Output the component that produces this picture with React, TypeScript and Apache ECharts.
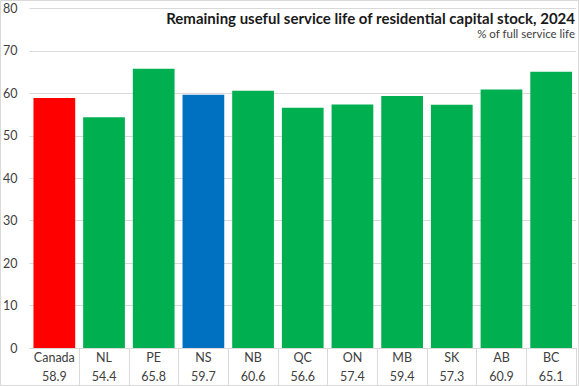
import React, { useEffect, useRef } from "react";
import * as echarts from "echarts";

const categories = ["Canada", "NL", "PE", "NS", "NB", "QC", "ON", "MB", "SK", "AB", "BC"];
const values = [58.9, 54.4, 65.8, 59.7, 60.6, 56.6, 57.4, 59.4, 57.3, 60.9, 65.1];
const barColors = ["#ff0000", "#00b050", "#00b050", "#0070c0", "#00b050", "#00b050", "#00b050", "#00b050", "#00b050", "#00b050", "#00b050"];
const titleText = "Remaining useful service life of residential capital stock, 2024";
const subtitleText = "% of full service life";

const FONT = "Lato, 'Noto Sans', sans-serif";

export default function App() {
  const ref = useRef<HTMLDivElement>(null);
  useEffect(() => {
    document.body.style.margin = "0";
    const chart = echarts.init(ref.current!, null, { renderer: "svg" });
    chart.setOption({
      animation: false,
      backgroundColor: "#ffffff",
      textStyle: { fontFamily: FONT },
      grid: { left: 27, right: 3, top: 8.5, bottom: 38, containLabel: false },
      xAxis: {
        type: "category",
        data: categories,
        boundaryGap: true,
        axisLine: { show: true, lineStyle: { color: "#d9d9d9", width: 1 } },
        axisTick: {
          show: true,
          length: 37,
          inside: false,
          lineStyle: { color: "#d9d9d9" },
          interval: (idx: number) => idx !== 0,
        },
        axisLabel: {
          interval: 0,
          margin: 0,
          formatter: (name: string, idx: number) => `{c|${name}}\n{v|${values[idx].toFixed(1)}}`,
          rich: {
            c: { fontSize: 12.5, lineHeight: 19, color: "#404040", fontFamily: FONT },
            v: { fontSize: 12.5, lineHeight: 19, color: "#404040", fontFamily: FONT },
          },
        },
      },
      yAxis: {
        type: "value",
        min: 0,
        max: 80,
        interval: 10,
        axisLine: { show: false },
        axisTick: { show: false },
        splitLine: { lineStyle: { color: "#d9d9d9", width: 1 } },
        axisLabel: { margin: 12, fontSize: 12.5, color: "#404040", fontFamily: FONT },
      },
      series: [
        {
          type: "bar",
          barCategoryGap: "16%",
          data: values.map((v, i) => ({ value: v, itemStyle: { color: barColors[i] } })),
        },
      ],
      graphic: [
        {
          type: "rect",
          shape: { x: 0.5, y: 0.5, width: 578, height: 385 },
          style: { fill: "none", stroke: "#d9d9d9", lineWidth: 1 },
          silent: true,
        },
        {
          type: "text",
          x: 575,
          y: 18,
          style: {
            text: titleText,
            align: "right",
            verticalAlign: "middle",
            font: `bold 15px ${FONT}`,
            fill: "#1a1a1a",
          },
        },
        {
          type: "text",
          x: 575,
          y: 33,
          style: {
            text: subtitleText,
            align: "right",
            verticalAlign: "middle",
            font: `11.5px ${FONT}`,
            fill: "#404040",
          },
        },
      ],
    });
    return () => chart.dispose();
  }, []);
  return <div ref={ref} style={{ width: 579, height: 386 }} />;
}
